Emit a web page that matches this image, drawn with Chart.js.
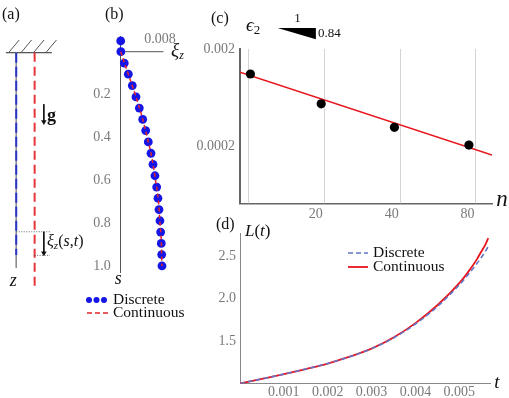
<!DOCTYPE html>
<html>
<head>
<meta charset="utf-8">
<script src="https://cdn.jsdelivr.net/npm/chart.js@4.4.1/dist/chart.umd.min.js"></script>
<style>
html, body { margin: 0; padding: 0; background: #fff; }
#wrap { position: relative; width: 509px; height: 398px; overflow: hidden; }
#wrap canvas { position: absolute; }
</style>
</head>
<body>
<div id="wrap">
  <canvas id="chartA" width="100" height="300" style="left:0px;top:0px"></canvas>
  <canvas id="chartB" width="115" height="325" style="left:80px;top:0px"></canvas>
  <canvas id="chartC" width="319" height="232" style="left:190px;top:0px"></canvas>
  <canvas id="chartD" width="319" height="183" style="left:190px;top:215px"></canvas>
</div>
<script>
// ---- panel (a): sketch of the hanging column (diagram units) ----
const ceiling = [[2, 50], [52, 50]];
const hatchFeet = [5, 18.5, 32, 45.5];
const restRod = [[13.3, 50], [13.3, 271]];
const discreteRod = [[13.3, 50], [13.3, 258]];
const contRod = [[33.3, 50], [33.3, 293]];
const guideTop = [[13.3, 234], [50, 234]];
const guideBot = [[33.3, 258.3], [50, 258.3]];
const xiArrow = [[43.3, 234], [43.3, 256]];
const gArrow = [[43.3, 103], [43.3, 121]];

// ---- panel (b): displacement profile xi_z(s) ----
const sDiscrete = [-0.05, 0, 0.053, 0.105, 0.158, 0.211, 0.263, 0.316, 0.368, 0.421, 0.474,
                   0.526, 0.579, 0.632, 0.684, 0.737, 0.789, 0.842, 0.895, 0.947, 1.0];
const xiDiscrete = [0, 0.00003, 0.00073, 0.00155, 0.00236, 0.00311, 0.00379, 0.00448, 0.00509, 0.00562, 0.00617,
                    0.00658, 0.00698, 0.00733, 0.00759, 0.00780, 0.00800, 0.00814, 0.00827, 0.00835, 0.00841];
const sCont = [0, 0.1, 0.2, 0.3, 0.4, 0.5, 0.6, 0.7, 0.8, 0.9, 1.0];
const xiCont = [0, 0.00148, 0.00296, 0.0043, 0.0054, 0.0064, 0.0071, 0.0077, 0.0080, 0.0083, 0.0084];
const sTicks = [0.2, 0.4, 0.6, 0.8, 1.0];

// ---- panel (c): error eps_2 vs n (log-log) ----
const nVals = [11, 21, 41, 81];
const epsVals = [0.00111, 0.00055, 0.000316, 0.000208];
const fitN = [10, 100];
const fitEps = [0.001155, 0.0001645];
const nTicks = [20, 40, 80];
const epsTicks = [0.0002, 0.002];
const nGrid = [10.8, 21.6, 43, 86];
const slopeN = [14.1, 20, 20];
const slopeEps = [0.00328, 0.00328, 0.00251];

// ---- panel (d): length L(t) ----
const tVals = [0, 0.0005, 0.001, 0.0015, 0.002, 0.0025, 0.003, 0.0035, 0.004, 0.0045, 0.005, 0.0052, 0.0054, 0.0055, 0.0056, 0.00566];
const lCont = [1.0, 1.055, 1.11, 1.17, 1.235, 1.315, 1.41, 1.54, 1.71, 1.92, 2.18, 2.31, 2.46, 2.55, 2.64, 2.71];
const lDisc = [1.0, 1.055, 1.11, 1.17, 1.235, 1.315, 1.41, 1.535, 1.70, 1.905, 2.16, 2.28, 2.41, 2.48, 2.56, 2.61];
const tTicks = [0.001, 0.002, 0.003, 0.004, 0.005];
const lTicks = [1.5, 2.0, 2.5];

const SERIF = "'Liberation Serif', 'DejaVu Serif', serif";
const TICK_GRAY = '#7a7a7a';
Chart.defaults.font.family = SERIF;
Chart.defaults.animation = false;
Chart.defaults.events = [];
Chart.defaults.plugins.legend.display = false;
Chart.defaults.plugins.tooltip.enabled = false;

function pts(xs, ys) { return xs.map((x, i) => ({ x: x, y: ys[i] })); }
function pairs(arr) { return arr.map(p => ({ x: p[0], y: p[1] })); }
function f(size, style) { return (style ? style + ' ' : '') + size + 'px ' + SERIF; }

// draw a row of text pieces: [text, font, dy, color]
function runs(ctx, x, y, parts, align) {
  ctx.save();
  ctx.textBaseline = 'middle';
  let w = 0;
  parts.forEach(p => { ctx.font = p[1]; w += ctx.measureText(p[0]).width; });
  let cx = align === 'center' ? x - w / 2 : align === 'right' ? x - w : x;
  parts.forEach(p => {
    ctx.font = p[1];
    ctx.fillStyle = p[3] || '#111';
    ctx.fillText(p[0], cx, y + (p[2] || 0));
    cx += ctx.measureText(p[0]).width;
  });
  ctx.restore();
}

function seg(points, color, width, dash, arrow) {
  return {
    data: pairs(points),
    showLine: true,
    borderColor: color,
    borderWidth: width,
    borderDash: dash || [],
    pointRadius: arrow ? [0, 3.2] : 0,
    pointStyle: 'triangle',
    rotation: 180,
    pointBackgroundColor: color,
    pointBorderWidth: 0,
    clip: false
  };
}

function drawAll() {

// ---------- (a) ----------
const hatchSets = hatchFeet.map(x0 => seg([[x0, 50], [x0 + 11.5, 37]], '#555', 1));
new Chart('chartA', {
  type: 'scatter',
  data: {
    datasets: [
      seg(xiArrow, '#111', 1, [], true),
      seg(gArrow, '#111', 1, [], true),
      seg(guideTop, '#444', 0.8, [1, 1.5]),
      seg(guideBot, '#444', 0.8, [1, 1.5]),
      seg(discreteRod, '#2a35c8', 2, [10, 4]),
      seg(contRod, '#e8343a', 2, [9, 5]),
      seg(restRod, '#8a8a8a', 1),
      seg(ceiling, '#555', 1.2)
    ].concat(hatchSets)
  },
  options: {
    responsive: false,
    layout: { padding: 0 },
    scales: {
      x: { type: 'linear', min: 0, max: 100, display: false },
      y: { type: 'linear', min: 0, max: 300, reverse: true, display: false }
    }
  },
  plugins: [{
    id: 'labelsA',
    afterDraw(chart) {
      const ctx = chart.ctx;
      runs(ctx, 2, 15, [['(a)', f(16)]]);
      runs(ctx, 47, 116, [['g', f(18, 'bold')]]);
      runs(ctx, 47, 242, [['ξ', f(16, 'italic')], ['z', f(11, 'italic'), 4], ['(', f(16)], ['s', f(16, 'italic')],
                          [',', f(16)], ['t', f(16, 'italic')], [')', f(16)]]);
      runs(ctx, 13.3, 281, [['z', f(18, 'italic')]], 'center');
    }
  }]
});

// ---------- (b) ----------
new Chart('chartB', {
  type: 'scatter',
  data: {
    datasets: [
      {
        label: 'Continuous',
        data: pts(xiCont, sCont),
        showLine: true,
        borderColor: '#e0262a',
        borderWidth: 1.5,
        borderDash: [4, 3],
        pointRadius: 0,
        cubicInterpolationMode: 'monotone',
        clip: false
      },
      {
        label: 'Discrete',
        data: pts(xiDiscrete, sDiscrete),
        showLine: false,
        pointRadius: 4.4,
        pointBackgroundColor: '#1515e6',
        pointBorderWidth: 0,
        clip: false
      },
      {
        label: 'axis',
        data: pts([0, 0.0087], [0, 0]),
        showLine: true,
        borderColor: '#555',
        borderWidth: 1,
        pointRadius: 0,
        clip: false
      }
    ]
  },
  options: {
    responsive: false,
    layout: { padding: { top: 36.7, right: 31.6, bottom: 52.6, left: 0 } },
    scales: {
      x: { type: 'linear', min: 0, max: 0.0087, display: false },
      y: {
        type: 'linear', min: -0.07, max: 1.03, reverse: true,
        afterFit(scale) { scale.width = 40.7; },
        afterBuildTicks(scale) { scale.ticks = sTicks.map(v => ({ value: v })); },
        grid: { drawOnChartArea: false, drawTicks: false },
        border: { color: '#555', width: 1 },
        ticks: { color: TICK_GRAY, padding: 10, font: { size: 14 }, callback: v => v.toFixed(1) }
      }
    }
  },
  plugins: [{
    id: 'labelsB',
    afterDraw(chart) {
      const ctx = chart.ctx;
      const xs = chart.scales.x;
      runs(ctx, 25, 15, [['(b)', f(16)]]);
      runs(ctx, xs.getPixelForValue(0.008), 39, [['0.008', f(14), 0, TICK_GRAY]], 'center');
      runs(ctx, 91, 51, [['ξ', f(19, 'italic')], ['z', f(12, 'italic'), 5]]);
      runs(ctx, 38.3, 279, [['s', f(18, 'italic')]], 'center');
      // legend
      ctx.save();
      ctx.fillStyle = '#1515e6';
      [9, 16.5, 24].forEach(x => { ctx.beginPath(); ctx.arc(x, 300, 3, 0, Math.PI * 2); ctx.fill(); });
      ctx.strokeStyle = '#e0262a';
      ctx.lineWidth = 1.5;
      ctx.setLineDash([5, 3]);
      ctx.beginPath(); ctx.moveTo(7, 313); ctx.lineTo(30, 313); ctx.stroke();
      ctx.restore();
      runs(ctx, 33, 299.5, [['Discrete', f(15.5)]]);
      runs(ctx, 33, 312.5, [['Continuous', f(15.5)]]);
    }
  }]
});

// ---------- (c) ----------
new Chart('chartC', {
  type: 'scatter',
  data: {
    datasets: [
      {
        label: 'data',
        data: pts(nVals, epsVals),
        pointRadius: 4.6,
        pointBackgroundColor: '#000',
        pointBorderWidth: 0,
        clip: false
      },
      {
        label: 'fit',
        data: pts(fitN, fitEps),
        showLine: true,
        borderColor: '#e8141c',
        borderWidth: 1.5,
        pointRadius: 0
      }
    ]
  },
  options: {
    responsive: false,
    layout: { padding: { top: 49, right: 17, bottom: 0, left: 0 } },
    scales: {
      x: {
        type: 'logarithmic', min: 10, max: 100,
        afterFit(scale) { scale.height = 28.7; },
        afterBuildTicks(scale) { scale.ticks = nTicks.map(v => ({ value: v })); },
        grid: { display: false, drawTicks: false },
        border: { color: '#666', width: 1.5 },
        ticks: { color: TICK_GRAY, padding: 3, font: { size: 14 }, maxRotation: 0, callback: v => String(v) }
      },
      y: {
        type: 'logarithmic', min: 5.27e-5, max: 0.002,
        afterFit(scale) { scale.width = 50; },
        afterBuildTicks(scale) { scale.ticks = epsTicks.map(v => ({ value: v })); },
        grid: { display: false, drawTicks: false },
        border: { color: '#666', width: 2 },
        ticks: { color: TICK_GRAY, padding: 5, font: { size: 14 }, callback: v => String(v) }
      }
    }
  },
  plugins: [{
    id: 'gridC',
    beforeDatasetsDraw(chart) {
      const ctx = chart.ctx, a = chart.chartArea, xs = chart.scales.x;
      ctx.save();
      ctx.strokeStyle = '#d4d4d4';
      ctx.lineWidth = 1;
      nGrid.forEach(n => {
        const x = Math.round(xs.getPixelForValue(n)) + 0.5;
        ctx.beginPath(); ctx.moveTo(x, a.top); ctx.lineTo(x, a.bottom); ctx.stroke();
      });
      ctx.restore();
    },
    afterDraw(chart) {
      const ctx = chart.ctx, xs = chart.scales.x, ys = chart.scales.y;
      runs(ctx, 21, 19, [['(c)', f(16)]]);
      runs(ctx, 56, 26, [['ϵ', f(19, 'italic')], ['2', f(13), 5]]);
      ctx.save();
      ctx.fillStyle = '#000';
      ctx.beginPath();
      slopeN.forEach((n, i) => {
        const x = xs.getPixelForValue(n), y = ys.getPixelForValue(slopeEps[i]);
        if (i === 0) ctx.moveTo(x, y); else ctx.lineTo(x, y);
      });
      ctx.closePath();
      ctx.fill();
      ctx.restore();
      runs(ctx, 107.5, 19, [['1', f(13)]], 'center');
      runs(ctx, 128, 34, [['0.84', f(13)]]);
      runs(ctx, 312, 200, [['n', f(23, 'italic')]], 'center');
    }
  }]
});

// ---------- (d) ----------
new Chart('chartD', {
  type: 'scatter',
  data: {
    datasets: [
      {
        label: 'Discrete',
        data: pts(tVals, lDisc),
        showLine: true,
        borderColor: '#6575c8',
        borderWidth: 1.6,
        borderDash: [5, 3],
        pointRadius: 0,
        cubicInterpolationMode: 'monotone'
      },
      {
        label: 'Continuous',
        data: pts(tVals, lCont),
        showLine: true,
        borderColor: '#e8141c',
        borderWidth: 1.8,
        pointRadius: 0,
        cubicInterpolationMode: 'monotone'
      }
    ]
  },
  options: {
    responsive: false,
    layout: { padding: { top: 18, right: 19, bottom: 0, left: 0 } },
    scales: {
      x: {
        type: 'linear', min: 0, max: 0.0057,
        afterFit(scale) { scale.height = 14.5; },
        afterBuildTicks(scale) { scale.ticks = tTicks.map(v => ({ value: v })); },
        grid: { display: false, drawTicks: false },
        border: { color: '#888', width: 1 },
        ticks: { color: TICK_GRAY, padding: 0, font: { size: 14 }, maxRotation: 0, callback: v => v.toFixed(3) }
      },
      y: {
        type: 'linear', min: 1.0, max: 2.77,
        afterFit(scale) { scale.width = 50; },
        afterBuildTicks(scale) { scale.ticks = lTicks.map(v => ({ value: v })); },
        grid: { display: false, drawTicks: false },
        border: { color: '#888', width: 1 },
        ticks: { color: TICK_GRAY, padding: 4, font: { size: 14 }, callback: v => v.toFixed(1) }
      }
    }
  },
  plugins: [{
    id: 'labelsD',
    afterDraw(chart) {
      const ctx = chart.ctx;
      runs(ctx, 26, 10, [['(d)', f(16)]]);
      runs(ctx, 55, 17, [['L', f(17, 'italic')], ['(', f(17)], ['t', f(17, 'italic')], [')', f(17)]]);
      runs(ctx, 307, 168, [['t', f(19, 'italic')]], 'center');
      const ds = chart.data.datasets;
      ctx.save();
      ctx.lineWidth = 1.6;
      ctx.strokeStyle = ds[0].borderColor;
      ctx.setLineDash([5, 3]);
      ctx.beginPath(); ctx.moveTo(158, 38); ctx.lineTo(178, 38); ctx.stroke();
      ctx.setLineDash([]);
      ctx.lineWidth = 1.8;
      ctx.strokeStyle = ds[1].borderColor;
      ctx.beginPath(); ctx.moveTo(158, 52); ctx.lineTo(178, 52); ctx.stroke();
      ctx.restore();
      runs(ctx, 183, 37.5, [['Discrete', f(15.5)]]);
      runs(ctx, 183, 51.5, [['Continuous', f(15.5)]]);
    }
  }]
});
}

const fontSpecs = ['16px "Liberation Serif"', 'italic 16px "Liberation Serif"', 'bold 16px "Liberation Serif"'];
Promise.all(fontSpecs.map(s => document.fonts.load(s))).then(drawAll, drawAll);
</script>
</body>
</html>
